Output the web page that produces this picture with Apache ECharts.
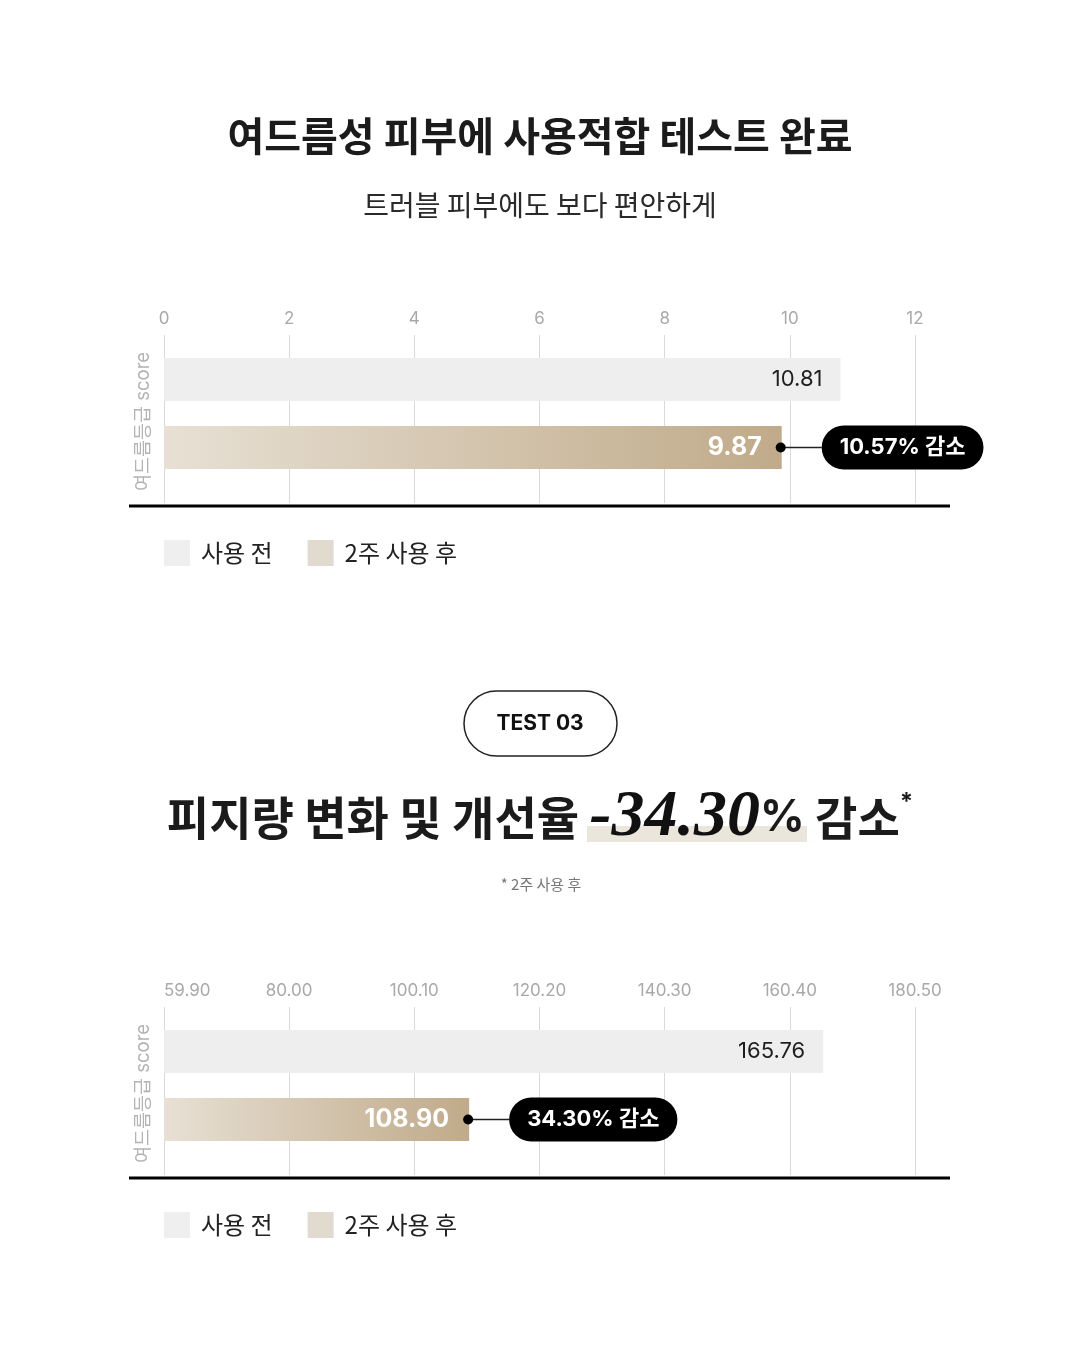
<!DOCTYPE html>
<html>
<head>
<meta charset="utf-8">
<script src="https://cdn.jsdelivr.net/npm/echarts@6/dist/echarts.min.js"></script>
<style>
html, body { margin: 0; padding: 0; background: #fff; }
#chart { width: 1080px; height: 1350px; }
</style>
</head>
<body>
<div id="chart"></div>
<script>
// data
const seriesNames = ['사용 전', '2주 사용 후'];
const axisName = '여드름등급 score';
const acneTicks = [0, 2, 4, 6, 8, 10, 12];
const acneValues = [10.81, 9.87];
const acneChange = ['10.57% 감소'];
const sebumTicks = [59.90, 80.00, 100.10, 120.20, 140.30, 160.40, 180.50];
const sebumValues = [165.76, 108.90];
const sebumChange = ['34.30% 감소'];

const SANS = "Inter, 'Noto Sans CJK KR', sans-serif";
const KR = "'Noto Sans CJK KR', sans-serif";
const BAR_W = 43, BAR_GAP = 25;
const GRID_LINE = '#d9d9d9';

const chart = echarts.init(document.getElementById('chart'));

function goldFill() {
  return new echarts.graphic.LinearGradient(0, 0, 1, 0, [
    { offset: 0, color: '#e7e0d4' },
    { offset: 1, color: '#c0aa89' }
  ]);
}

// one bar panel: grid + top axis (labels, split lines) + bottom axis (tick stubs)
function panel(idx, top, ticks, values, change, fmt, alignMin) {
  const step = +(ticks[1] - ticks[0]).toFixed(2);
  const scale = { type: 'value', min: ticks[0], max: ticks[ticks.length - 1], interval: step };
  return {
    grid: { left: 164, width: 751, top: top, height: 157 },
    xAxis: [
      Object.assign({}, scale, {
        gridIndex: idx,
        position: 'top',
        axisLine: { show: false },
        axisTick: { show: false },
        splitLine: { show: true, lineStyle: { color: GRID_LINE, width: 1 } },
        axisLabel: {
          color: '#a9a9a9', fontSize: 17, fontFamily: SANS, margin: 8,
          alignMinLabel: alignMin, formatter: fmt
        }
      }),
      Object.assign({}, scale, {
        gridIndex: idx,
        position: 'bottom',
        axisLine: { show: false },
        axisTick: { show: true, length: 11, lineStyle: { color: GRID_LINE, width: 1 } },
        splitLine: { show: false },
        axisLabel: { show: false }
      })
    ],
    yAxis: {
      type: 'category',
      gridIndex: idx,
      data: [axisName],
      axisLine: { show: false },
      axisTick: { show: false },
      axisLabel: { show: false },
      name: axisName,
      nameLocation: 'middle',
      nameRotate: 90,
      nameGap: 11,
      nameTextStyle: { color: '#b3b3b3', fontSize: 18.5, fontFamily: SANS, padding: [0, 16, 0, 0] }
    },
    legend: {
      top: top + 205,
      left: 164,
      padding: 0,
      icon: 'rect',
      itemWidth: 26,
      itemHeight: 26,
      itemGap: 35,
      selectedMode: false,
      textStyle: { fontSize: 24, color: '#222', fontFamily: KR, padding: [0, 0, 0, 6] },
      data: [
        { name: seriesNames[0], itemStyle: { color: '#efefef' } },
        { name: seriesNames[1], itemStyle: { color: '#e1dacf' } }
      ]
    },
    series: [
      {
        name: seriesNames[0],
        type: 'bar',
        xAxisIndex: idx * 2,
        yAxisIndex: idx,
        barWidth: BAR_W,
        barGap: (BAR_GAP / BAR_W * 100).toFixed(1) + '%',
        data: [values[0]],
        itemStyle: { color: '#eeeeee' },
        label: {
          show: true, position: 'insideRight', distance: 18,
          color: '#1e1e1e', fontSize: 22, fontFamily: SANS,
          formatter: p => p.value.toFixed(2)
        }
      },
      {
        name: seriesNames[1],
        type: 'bar',
        xAxisIndex: idx * 2,
        yAxisIndex: idx,
        barWidth: BAR_W,
        barGap: (BAR_GAP / BAR_W * 100).toFixed(1) + '%',
        data: [values[1]],
        itemStyle: { color: goldFill() },
        label: {
          show: true, position: 'insideRight', distance: 20,
          color: '#fff', fontSize: 25, fontWeight: 'bold', fontFamily: SANS,
          formatter: p => p.value.toFixed(2)
        }
      },
      {
        type: 'custom',
        xAxisIndex: idx * 2,
        yAxisIndex: idx,
        clip: false,
        z: 10,
        data: [[values[1], 0]],
        renderItem: function (params, api) {
          const p = api.coord([api.value(0), 0]);
          const x = p[0], y = p[1] + (BAR_W + BAR_GAP) / 2;
          return {
            type: 'group',
            children: [
              { type: 'line', shape: { x1: x, y1: y, x2: x + 40, y2: y },
                style: { stroke: '#222', lineWidth: 1.5 } },
              { type: 'circle', shape: { cx: x - 1, cy: y, r: 5 }, style: { fill: '#000' } },
              { type: 'text', x: x + 40, y: y,
                style: {
                  text: change[params.dataIndex], fill: '#fff',
                  fontSize: 22, fontWeight: 'bold', fontFamily: SANS,
                  align: 'left', verticalAlign: 'middle', lineHeight: 22,
                  backgroundColor: '#000', padding: [11, 18], borderRadius: 22
                } }
            ]
          };
        }
      }
    ]
  };
}

const a = panel(0, 335, acneTicks, acneValues, acneChange, v => String(v), null);
const b = panel(1, 1007, sebumTicks, sebumValues, sebumChange, v => v.toFixed(2), 'left');

chart.setOption({
  backgroundColor: '#fff',
  animation: false,
  grid: [a.grid, b.grid],
  xAxis: a.xAxis.concat(b.xAxis),
  yAxis: [a.yAxis, b.yAxis],
  legend: [a.legend, b.legend],
  series: a.series.concat(b.series),
  graphic: [
    { type: 'text', x: 540, y: 136,
      style: { text: '여드름성 피부에 사용적합 테스트 완료', fill: '#1b1b1b',
        fontSize: 40, fontWeight: 'bold', fontFamily: KR, align: 'center', verticalAlign: 'middle' } },
    { type: 'text', x: 540, y: 205,
      style: { text: '트러블 피부에도 보다 편안하게', fill: '#2a2a2a',
        fontSize: 28, fontFamily: KR, align: 'center', verticalAlign: 'middle' } },
    { type: 'line', shape: { x1: 129, y1: 506, x2: 950, y2: 506 },
      style: { stroke: '#000', lineWidth: 3 } },
    { type: 'rect', shape: { x: 464, y: 691, width: 153, height: 65, r: 32.5 },
      style: { fill: '#fff', stroke: '#222', lineWidth: 1.5 } },
    { type: 'text', x: 540, y: 724,
      style: { text: 'TEST 03', fill: '#111', fontSize: 21, fontWeight: 'bold', fontFamily: SANS,
        align: 'center', verticalAlign: 'middle' } },
    { type: 'rect', shape: { x: 587, y: 826, width: 220, height: 16 },
      style: { fill: '#ebe6dc' } },
    { type: 'text', x: 540, y: 818,
      style: {
        text: '{k|피지량 변화 및 개선율 }{n|-34.30}{p|%}{k| 감소}{s|*}',
        align: 'center', verticalAlign: 'middle',
        rich: {
          k: { fontSize: 46, fontWeight: 'bold', fontFamily: KR, fill: '#1b1b1b',
               verticalAlign: 'middle', lineHeight: 70 },
          n: { fontSize: 66, fontWeight: 'bold', fontStyle: 'italic', fontFamily: "'Liberation Serif', serif",
               fill: '#111', verticalAlign: 'middle', lineHeight: 70 },
          p: { fontSize: 44, fontWeight: 'bold', fontFamily: SANS, fill: '#1b1b1b',
               verticalAlign: 'middle', lineHeight: 70 },
          s: { fontSize: 24, fontWeight: 'bold', fontFamily: SANS, fill: '#1b1b1b',
               verticalAlign: 'middle', lineHeight: 70, padding: [0, 0, 30, 0] }
        }
      } },
    { type: 'text', x: 541, y: 884,
      style: { text: '* 2주 사용 후', fill: '#777', fontSize: 15, fontFamily: KR,
        align: 'center', verticalAlign: 'middle' } },
    { type: 'line', shape: { x1: 129, y1: 1178, x2: 950, y2: 1178 },
      style: { stroke: '#000', lineWidth: 3 } }
  ]
});
</script>
</body>
</html>
